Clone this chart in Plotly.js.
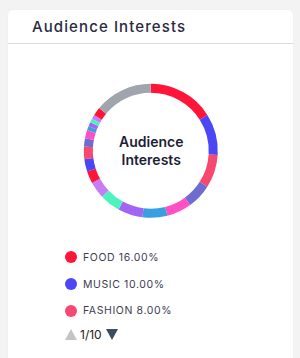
<!DOCTYPE html>
<html>
<head>
<meta charset="utf-8">
<script src="https://cdn.plot.ly/plotly-3.0.1.min.js"></script>
<style>
  html, body { margin: 0; padding: 0; background: #f3f3f3; width: 300px; height: 358px; overflow: hidden; }
  #card { position: absolute; left: 8px; top: 10px; width: 285px; height: 360px; background: #fff; border-radius: 5px; box-shadow: 0 0 1px rgba(0,0,0,0.08); }
  #hdr { position: absolute; left: 0; top: 0; width: 285px; height: 33px; border-bottom: 1px solid #dcdcdf; }
  #hdr span { position: absolute; left: 24px; top: 7px; font-family: Inter, "Open Sans", sans-serif; font-size: 15px; letter-spacing: 1.1px; color: #2a2a40; font-weight: 500; }
  #chart { position: absolute; left: 0; top: 0; width: 300px; height: 358px; }
  #legend { position: absolute; left: 65px; top: 244px; font-family: Inter, "Open Sans", sans-serif; }
  .row { height: 26.7px; display: flex; align-items: center; font-size: 10.5px; letter-spacing: 0.6px; color: #3e3e52; position: relative; }
  .dot { width: 12px; height: 12px; border-radius: 50%; margin-right: 6px; display: inline-block; }
  #pager { display: flex; align-items: center; font-size: 12px; color: #222; margin-top: 3px; }
  .up { width: 0; height: 0; border-left: 6px solid transparent; border-right: 6px solid transparent; border-bottom: 11px solid #c4c4c4; margin-right: 3px; }
  .dn { width: 0; height: 0; border-left: 6px solid transparent; border-right: 6px solid transparent; border-top: 11px solid #3b4d61; margin-left: 4px; }
</style>
</head>
<body>
<div id="card"><div id="hdr"><span>Audience Interests</span></div></div>
<div id="chart"></div>
<div id="legend"></div>
<script>
// ---- data ----
const categories = ["FOOD", "MUSIC", "FASHION", "TRAVEL", "SPORTS", "TECHNOLOGY", "MOVIES", "GAMING", "BEAUTY",
                    "FITNESS", "BOOKS", "ART", "PHOTOGRAPHY", "PETS", "CARS", "HOME", "PARENTING", "FINANCE", "HEALTH", "OTHERS"];
const values = [16, 10, 8, 6, 6, 6, 6, 5, 4, 3, 3, 3, 2, 2, 1, 1, 1, 1, 2, 14];
const palette = ["#ff1538", "#4b47f5", "#f7486f", "#6e6bd1", "#ff4fc4", "#3a9fe0", "#a264f5", "#4df2bd", "#c57cf5"];
const otherColor = "#a0a4ac";
const centerTitle = "Audience<br>Interests";
const pageInfo = "1/10";
const perPage = 3;
// --------------------------------------

const colors = values.map((v, i) => i === values.length - 1 ? otherColor : palette[i % palette.length]);
const total = values.reduce((a, b) => a + b, 0);

const W = 300, H = 358, cx = 150.8, cy = 150.8, R = 67;
const trace = {
  type: "pie",
  labels: categories,
  values: values,
  sort: false,
  direction: "clockwise",
  rotation: 0,
  hole: 0.865,
  textinfo: "none",
  hoverinfo: "none",
  marker: { colors: colors, line: { width: 0 } },
  domain: { x: [(cx - R) / W, (cx + R) / W], y: [(H - cy - R) / H, (H - cy + R) / H] },
  showlegend: false
};
const layout = {
  width: W, height: H,
  margin: { l: 0, r: 0, t: 0, b: 0 },
  paper_bgcolor: "rgba(0,0,0,0)",
  plot_bgcolor: "rgba(0,0,0,0)",
  annotations: [{
    text: centerTitle, showarrow: false, xref: "paper", yref: "paper",
    x: cx / W, y: (H - cy) / H, xanchor: "center", yanchor: "middle",
    font: { family: "Inter, 'Open Sans', sans-serif", size: 14, color: "#1e1e34", weight: 600 }
  }]
};
Plotly.newPlot("chart", [trace], layout, { displayModeBar: false, staticPlot: true });

// legend (first page)
const leg = document.getElementById("legend");
for (let i = 0; i < perPage; i++) {
  const row = document.createElement("div");
  row.className = "row";
  const dot = document.createElement("span");
  dot.className = "dot";
  dot.style.background = colors[i];
  row.appendChild(dot);
  row.appendChild(document.createTextNode(categories[i] + " " + (values[i] / total * 100).toFixed(2) + "%"));
  leg.appendChild(row);
}
const pager = document.createElement("div");
pager.id = "pager";
pager.innerHTML = '<span class="up"></span><span>' + pageInfo + '</span><span class="dn"></span>';
leg.appendChild(pager);
</script>
</body>
</html>
